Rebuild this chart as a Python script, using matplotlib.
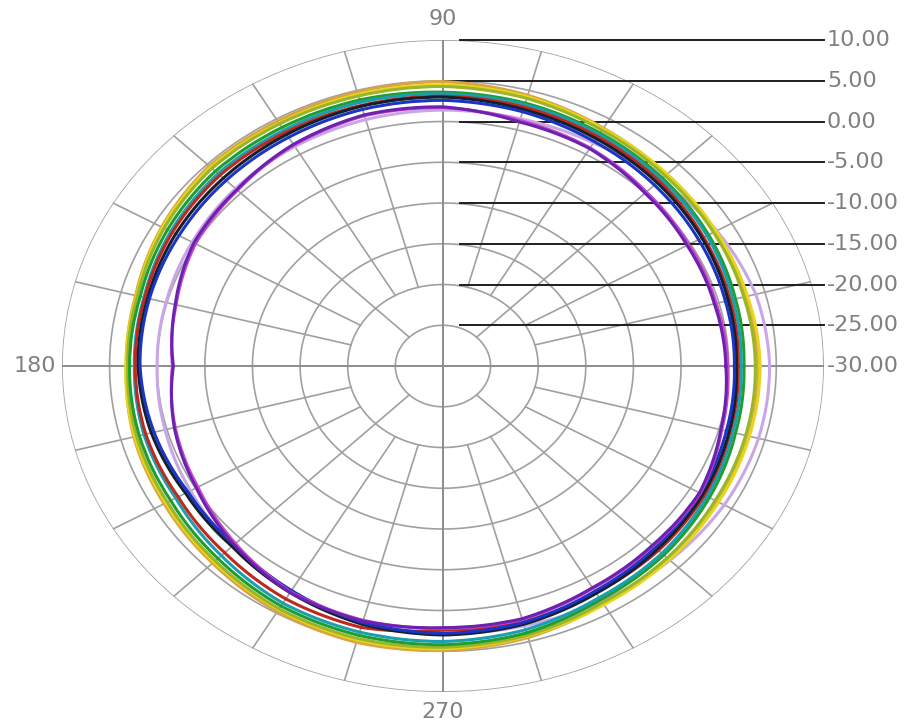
import numpy as np
import matplotlib
matplotlib.use("Agg")
import matplotlib.pyplot as plt

# ---------------- data ----------------
angles_deg = [0, 15, 30, 45, 60, 75, 90, 105, 120, 135, 150, 165,
              180, 195, 210, 225, 240, 255, 270, 285, 300, 315, 330, 345]

lilac_db   = [4.3, 4.0, 3.2, 2.2, 1.6, 1.4, 1.4, 1.3, 1.1, 0.8, 0.4, 0.1,
              0.0, 0.2, 0.6, 1.2, 2.0, 2.5, 2.8, 3.0, 3.3, 3.7, 4.1, 4.3]
orange_db  = [3.1, 2.9, 3.0, 3.2, 3.7, 4.4, 4.9, 4.8, 4.7, 4.7, 4.1, 3.4,
              3.2, 3.6, 3.8, 4.2, 4.8, 5.1, 4.9, 4.5, 3.7, 3.5, 3.3, 3.2]
yellow_db  = [3.3, 3.1, 3.1, 3.3, 3.6, 4.2, 4.5, 4.5, 4.4, 4.5, 4.0, 3.3,
              3.3, 3.5, 3.6, 4.0, 4.5, 4.8, 4.7, 4.3, 3.8, 3.6, 3.4, 3.3]
olive_db   = [2.8, 2.7, 2.8, 3.0, 3.4, 4.0, 4.3, 4.3, 4.3, 4.3, 3.8, 3.2,
              3.1, 3.3, 3.4, 3.8, 4.4, 4.6, 4.5, 4.2, 3.5, 3.3, 3.0, 2.9]
green_db   = [1.6, 1.8, 2.2, 2.6, 3.0, 3.4, 3.6, 3.8, 3.8, 3.8, 3.4, 2.9,
              2.9, 3.0, 3.0, 3.4, 4.0, 4.2, 4.2, 3.9, 3.1, 2.8, 2.3, 1.8]
teal_db    = [1.3, 1.5, 2.0, 2.4, 2.8, 3.2, 3.4, 3.5, 3.4, 3.4, 3.0, 2.5,
              2.4, 2.5, 2.4, 2.9, 3.6, 3.8, 3.8, 3.5, 2.8, 2.5, 2.0, 1.5]
red_db     = [1.0, 1.2, 1.6, 2.1, 2.5, 2.9, 3.1, 3.1, 3.1, 3.1, 2.8, 2.4,
              2.3, 2.3, 2.1, 2.4, 3.0, 3.2, 2.4, 2.5, 2.1, 2.0, 1.7, 1.2]
navy_db    = [0.8, 1.0, 1.4, 1.8, 2.2, 2.6, 3.0, 3.0, 2.8, 2.6, 2.4, 2.1,
              2.0, 1.7, 1.2, 1.3, 2.1, 2.8, 3.0, 2.8, 2.2, 1.8, 1.5, 1.1]
blue_db    = [0.6, 0.7, 1.0, 1.4, 1.8, 2.3, 2.6, 2.6, 2.4, 2.2, 2.0, 1.9,
              1.8, 1.4, 0.9, 1.0, 1.8, 2.6, 2.8, 2.6, 1.9, 1.5, 1.2, 0.8]
magenta_db = [-0.1, -0.3, -0.2, 0.2, 0.9, 1.2, 1.7, 1.8, 1.3, 0.5, 0.0, -1.0,
              -1.6, -0.9, -0.3, 0.8, 2.0, 2.3, 2.2, 2.2, 1.5, 1.2, 1.2, 0.3]
purple_db  = [-0.3, -0.5, -0.4, 0.0, 0.8, 1.0, 1.8, 1.9, 1.4, 0.6, 0.2, -0.9,
              -1.7, -0.8, -0.1, 1.0, 2.1, 2.4, 2.1, 2.1, 1.4, 1.1, 1.1, 0.2]

ring_levels = [-25, -20, -15, -10, -5, 0, 5, 10]
label_levels = [10, 5, 0, -5, -10, -15, -20, -25, -30]
label_texts = ["10.00", "5.00", "0.00", "-5.00", "-10.00", "-15.00",
               "-20.00", "-25.00", "-30.00"]
axis_labels = ["90", "180", "270"]

# ---------------- figure ----------------
fig = plt.figure(figsize=(9.18, 7.21), dpi=100)
fig.patch.set_facecolor("white")
ax = fig.add_axes([0.0675, 0.0402, 0.830, 0.9043], projection="polar")
ax.set_aspect("auto")
ax.set_theta_zero_location("E")
ax.set_theta_direction(1)
ax.set_ylim(-30, 10)
ax.grid(False)
ax.set_xticks([])
ax.set_yticks([])
ax.spines["polar"].set_visible(False)

gc = "#a0a0a0"
glw = 1.2

# rings
th = np.linspace(0, 2 * np.pi, 721)
for v in ring_levels:
    ax.plot(th, np.full_like(th, v), color=gc, lw=glw, zorder=1)

# radial segments (brick-like polar grid)
for lo in range(-25, 10, 5):
    if lo == -25:
        angs = [45, 135, 225, 315]
    else:
        angs = [a for a in range(0, 360, 15) if a % 90 != 0]
    for a in angs:
        t = np.deg2rad(a)
        ax.plot([t, t], [lo, lo + 5], color=gc, lw=glw, zorder=1)

# main axes cross
for a in [0, 90, 180, 270]:
    t = np.deg2rad(a)
    ax.plot([t, t], [-30, 10], color="#8c8c8c", lw=1.4, zorder=1.5)

# level reference lines + labels at right
inv = ax.transAxes.inverted()
for v, txt in zip(label_levels, label_texts):
    p = ax.transData.transform((np.pi / 2, v))
    yf = inv.transform(p)[1]
    if v != -30:
        x0 = 0.5 if v == 5 else 0.522
        ax.plot([x0, 1.0], [yf, yf], transform=ax.transAxes, color="#1e1e1e",
                lw=1.4, clip_on=False, zorder=2)
    ax.text(1.004, yf, txt, transform=ax.transAxes, ha="left", va="center",
            fontsize=16, color="#808080", family="DejaVu Sans")

# angle labels
ax.text(np.deg2rad(90), 12.6, axis_labels[0], ha="center", va="center",
        fontsize=16, color="#808080")
ax.text(np.deg2rad(180), 12.9, axis_labels[1], ha="center", va="center",
        fontsize=16, color="#808080")
ax.text(np.deg2rad(270), 12.5, axis_labels[2], ha="center", va="center",
        fontsize=16, color="#808080")

# traces (drawn as polar arcs between readings by the polar transform)
traces = [
    (lilac_db, "#c9a6e6"),
    (orange_db, "#d9a441"),
    (yellow_db, "#e8d41a"),
    (olive_db, "#9ab52a"),
    (green_db, "#1f9e2f"),
    (teal_db, "#1a9fb0"),
    (red_db, "#c0281e"),
    (navy_db, "#14202e"),
    (blue_db, "#1a34c4"),
    (magenta_db, "#c845c8"),
    (purple_db, "#6c22b0"),
]
theta = np.deg2rad(angles_deg + [360])
for vals, col in traces:
    r = vals + [vals[0]]
    ln, = ax.plot(theta, r, color=col, lw=2.2, zorder=3, solid_joinstyle="round")
    try:
        ln.get_path()._interpolation_steps = 40
    except Exception:
        pass

fig.savefig("out.png", dpi=100, facecolor="white")
